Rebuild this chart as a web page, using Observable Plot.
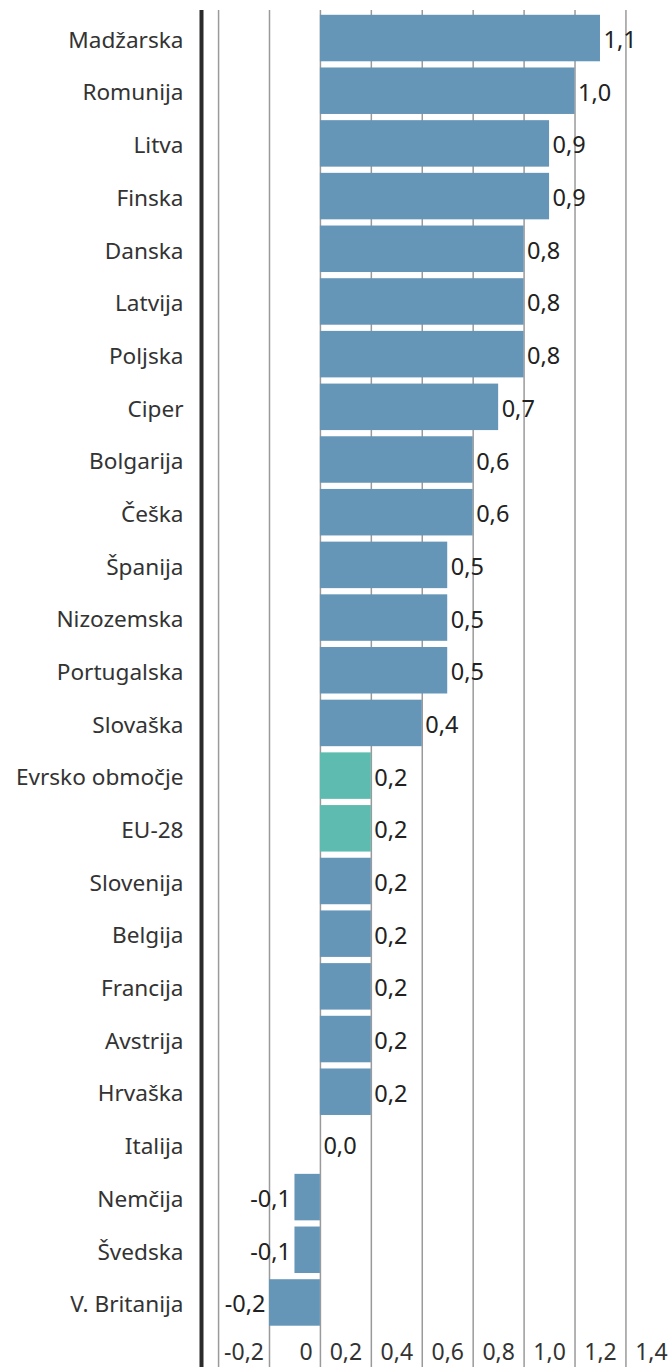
<!DOCTYPE html>
<html>
<head>
<meta charset="utf-8">
<script src="https://cdn.jsdelivr.net/npm/d3@7"></script>
<script src="https://cdn.jsdelivr.net/npm/@observablehq/plot@0.6"></script>
<style>
  html, body { margin: 0; padding: 0; background: #fff; }
  #chart svg { display: block; }
</style>
</head>
<body>
<div id="chart"></div>
<script>
const countries = ["Madžarska","Romunija","Litva","Finska","Danska","Latvija","Poljska","Ciper","Bolgarija","Češka","Španija","Nizozemska","Portugalska","Slovaška","Evrsko območje","EU-28","Slovenija","Belgija","Francija","Avstrija","Hrvaška","Italija","Nemčija","Švedska","V. Britanija"];
const values = [1.1,1.0,0.9,0.9,0.8,0.8,0.8,0.7,0.6,0.6,0.5,0.5,0.5,0.4,0.2,0.2,0.2,0.2,0.2,0.2,0.2,0.0,-0.1,-0.1,-0.2];
const aggregates = ["Evrsko območje","EU-28"];
const gridValues = [-0.4,-0.2,0,0.2,0.4,0.6,0.8,1.0,1.2];
const tickLabels = ["-0,2","0","0,2","0,4","0,6","0,8","1,0","1,2","1,4"];

const data = countries.map((c, i) => ({country: c, value: values[i], agg: aggregates.includes(c)}));
const fmt = v => d3.format(".1f")(v).replace(".", ",").replace("−", "-");
const ticks = gridValues.map((g, i) => ({x: g + 0.1, label: tickLabels[i]}));

const font = "'Noto Sans', sans-serif";
const chart = Plot.plot({
  width: 670,
  height: 1367,
  marginLeft: 200,
  marginRight: 0,
  marginTop: 8.6,
  marginBottom: 35.1,
  style: {fontFamily: font, background: "#fff"},
  x: {domain: [-0.471, 1.375], axis: null},
  y: {domain: countries, padding: 0.1175, round: false, label: null, tickSize: 0, tickPadding: 17},
  marks: [
    Plot.ruleX(gridValues, {stroke: "#9a9a9a", strokeWidth: 1.5, insetTop: 1.4, insetBottom: -37}),
    Plot.barX(data, {y: "country", x: "value", fill: d => d.agg ? "#5dbcaf" : "#6596b8"}),
    Plot.ruleX([-0.471], {stroke: "#2b2b2b", strokeWidth: 4, dx: 1, insetTop: 1.4, insetBottom: -37}),
    Plot.axisY({tickSize: 0, tickPadding: 17, dy: 2, fontSize: 22.6, fill: "#333", fontFamily: font}),
    Plot.text(data.filter(d => d.value >= 0), {y: "country", x: "value", text: d => fmt(d.value), textAnchor: "start", dx: 3, dy: 2, fontSize: 23.5, fill: "#222"}),
    Plot.text(data.filter(d => d.value < 0), {y: "country", x: "value", text: d => fmt(d.value), textAnchor: "end", dx: -4, dy: 2, fontSize: 23.5, fill: "#222"}),
    Plot.text(ticks.filter(t => t.label !== "0"), {x: "x", text: "label", frameAnchor: "bottom", dy: 28, fontSize: 23, fill: "#333"}),
    Plot.text(ticks.filter(t => t.label === "0"), {x: "x", text: "label", frameAnchor: "bottom", dy: 28, dx: 11, fontSize: 23, fill: "#333"})
  ]
});
document.getElementById("chart").appendChild(chart);
</script>
</body>
</html>
